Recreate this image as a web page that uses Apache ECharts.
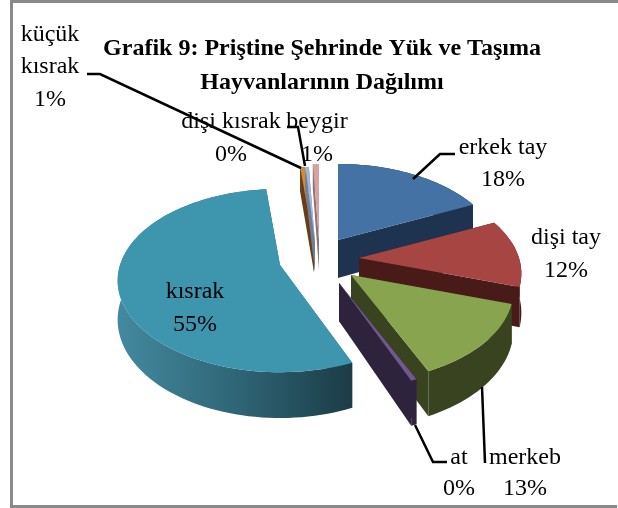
<!DOCTYPE html>
<html>
<head>
<meta charset="utf-8">
<style>
  html, body { margin: 0; padding: 0; background: #fff; }
  #chart { width: 618px; height: 508px; }
</style>
<script src="https://cdn.jsdelivr.net/npm/echarts@6/dist/echarts.min.js"></script>
</head>
<body>
<div id="chart"></div>
<script>
// data, clockwise from 12 o'clock
const names = ['erkek tay', 'dişi tay', 'merkeb', 'at', 'kısrak', 'küçük kısrak', 'dişi kısrak', 'beygir'];
const shares = [18, 12, 13.3, 0.49, 54.6, 0.5, 0.4, 0.71];
const percentLabels = ['18%', '12%', '13%', '0%', '55%', '1%', '0%', '1%'];

// styling
const topColors = ['#4472a5', '#a74543', '#89a44e', '#71588f', '#3e96ae', '#d98a34', '#a0b8dc', '#d6a3a2'];
const sideColors = ['#1d3350', '#481b18', '#3a4320', '#2d233d', '#2d6272', '#6a3d14', '#6f7f99', '#8f7272'];

// exploded slice tips [x, y, depth]
const tips = [
  [338, 240, 38], [359, 258, 38], [351, 275, 38], [339, 283, 38],
  [280, 265, 38], [314, 243, 29], [315, 243, 29], [319, 240, 30]
];
const paintOrder = [5, 6, 7, 0, 1, 2, 3, 4];

const RX = 160, RY = 89, PERSP = 0.17;

const labelSpots = [
  [503, 148, 180], [566, 238, 271], [525, 458, 489], [459, 458, 489],
  [195, 292, 325], [50, 67, 100], [231, 122, 155], [317, 122, 155]
];
const leaders = [
  [[455, 154], [440, 154], [413, 179]],
  [[482, 387], [485, 463]],
  [[415, 425], [433, 462], [447, 462]],
  [[87, 74], [100, 74], [301, 168]],
  [[287, 127], [298, 127], [305, 166]]
];

const total = shares.reduce((a, b) => a + b, 0);
const starts = [];
shares.reduce((sum, s, i) => { starts[i] = sum; return sum + s; }, 0);

// project a disc angle onto the screen, tilted with a bit of perspective
function project(tip, deg) {
  const a = deg * Math.PI / 180;
  const v = -Math.cos(a);
  const w = 1 - PERSP * v;
  return {
    x: tip[0] + RX * Math.sin(a) / w,
    y: tip[1] + RY * v / w,
    drop: tip[2] / w
  };
}

function renderSlice(params, api) {
  const i = api.value(0);
  const tip = tips[i];
  const a0 = starts[i] / total * 360;
  const a1 = (starts[i] + api.value(1)) / total * 360;
  const arc = [];
  const steps = Math.max(2, Math.ceil((a1 - a0) / 2));
  for (let s = 0; s <= steps; s++) {
    arc.push(project(tip, a0 + (a1 - a0) * s / steps));
  }
  const first = arc[0], last = arc[arc.length - 1];
  const sideFill = names[i] === 'kısrak'
    ? new echarts.graphic.LinearGradient(0, 0, 1, 0, [
        { offset: 0, color: '#43899f' },
        { offset: 0.5, color: '#2f6676' },
        { offset: 1, color: '#1b3c47' }
      ])
    : sideColors[i];

  const rim = arc.map(p => [p.x, p.y]).concat(arc.slice().reverse().map(p => [p.x, p.y + p.drop]));
  const topFace = [[tip[0], tip[1]]].concat(arc.map(p => [p.x, p.y]));
  const poly = (points, fill) => ({ type: 'polygon', shape: { points }, style: { fill } });

  return {
    type: 'group',
    children: [
      poly([[tip[0], tip[1]], [first.x, first.y], [first.x, first.y + first.drop], [tip[0], tip[1] + tip[2]]], sideColors[i]),
      poly([[tip[0], tip[1]], [last.x, last.y], [last.x, last.y + last.drop], [tip[0], tip[1] + tip[2]]], sideColors[i]),
      poly(rim, sideFill),
      poly(topFace, topColors[i])
    ]
  };
}

const FONT = '"Liberation Serif", "Times New Roman", serif';

function textEl(text, x, y) {
  return {
    type: 'text', z: 20, x, y,
    style: { text, font: '24px ' + FONT, fill: '#000', align: 'center', verticalAlign: 'middle' }
  };
}

const labelEls = [];
names.forEach((name, i) => {
  const spot = labelSpots[i];
  if (name === 'küçük kısrak') {
    labelEls.push(textEl('küçük', spot[0], 35));
    labelEls.push(textEl('kısrak', spot[0], spot[1]));
  } else {
    labelEls.push(textEl(name, spot[0], spot[1]));
  }
  labelEls.push(textEl(percentLabels[i], spot[0], spot[2]));
});

const leaderEls = leaders.map(points => ({
  type: 'polyline', z: 15,
  shape: { points },
  style: { stroke: '#000', lineWidth: 2.5, fill: null }
}));

const frameEls = [
  { type: 'rect', z: 30, shape: { x: 10, y: 0, width: 608, height: 3 }, style: { fill: '#8a8a8a' } },
  { type: 'rect', z: 30, shape: { x: 10, y: 0, width: 3, height: 508 }, style: { fill: '#8a8a8a' } },
  { type: 'rect', z: 30, shape: { x: 10, y: 505, width: 607, height: 3 }, style: { fill: '#8a8a8a' } }
];

const myChart = echarts.init(document.getElementById('chart'));
myChart.setOption({
  animation: false,
  backgroundColor: '#fff',
  title: {
    text: 'Grafik 9: Priştine Şehrinde Yük ve Taşıma\nHayvanlarının Dağılımı',
    left: 317,
    top: 27,
    textAlign: 'center',
    textStyle: { fontFamily: FONT, fontSize: 24, fontWeight: 'bold', color: '#000', lineHeight: 34 }
  },
  series: [{
    type: 'custom',
    coordinateSystem: 'none',
    renderItem: renderSlice,
    data: paintOrder.map(i => [i, shares[i]])
  }],
  graphic: { elements: leaderEls.concat(labelEls, frameEls) }
});
</script>
</body>
</html>
